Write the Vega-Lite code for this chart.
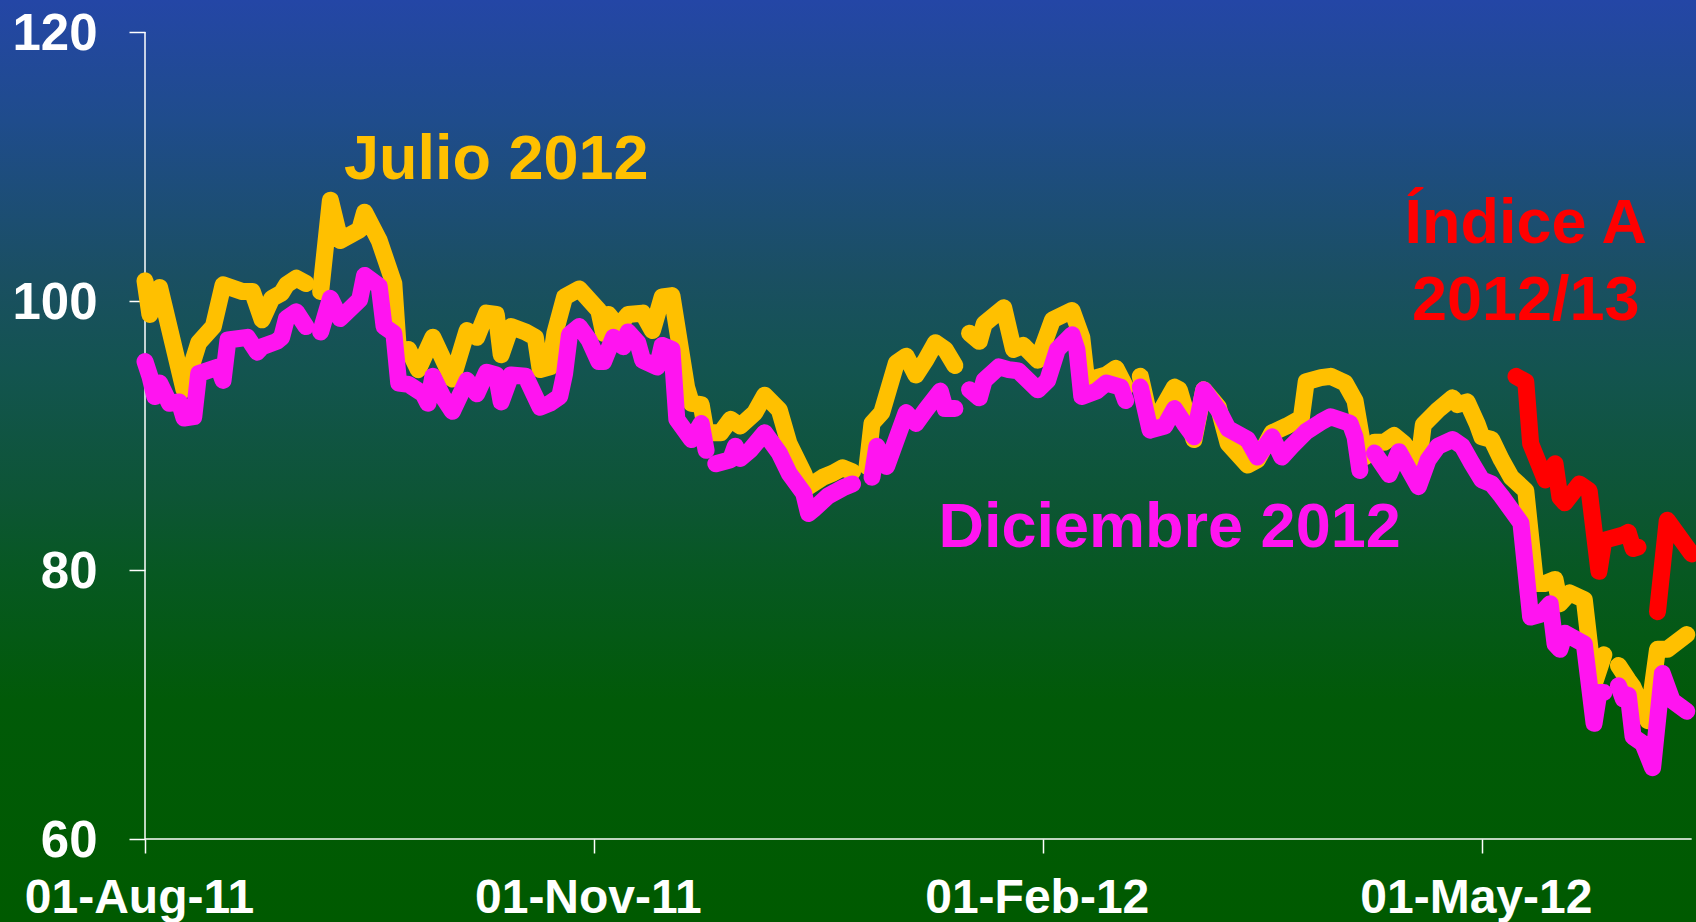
{
  "$schema": "https://vega.github.io/schema/vega-lite/v6.json",
  "width": 1696,
  "height": 922,
  "autosize": {"type": "none"},
  "padding": 0,
  "background": "#0E5535",
  "view": {
    "stroke": null,
    "fill": {
      "gradient": "linear", "x1": 0, "y1": 0, "x2": 0, "y2": 1,
      "stops": [
        {"offset": 0, "color": "#2446A6"},
        {"offset": 0.13, "color": "#1F4C8C"},
        {"offset": 0.3, "color": "#1A4F62"},
        {"offset": 0.4, "color": "#135450"},
        {"offset": 0.54, "color": "#0D5535"},
        {"offset": 0.62, "color": "#075822"},
        {"offset": 0.76, "color": "#015A08"},
        {"offset": 1, "color": "#005A00"}
      ]
    }
  },
  "config": {"font": "Liberation Sans"},
  "datasets": {
    "axisLines": [
      {"date": "2011-08-01", "date2": "2011-08-01", "value": 60, "value2": 120},
      {"date": "2011-08-01", "date2": "2012-06-13", "value": 60, "value2": 60}
    ],
    "prices": [
      {"series":"Julio 2012","seg":1,"date":"2011-08-01","value":101.5},
      {"series":"Julio 2012","seg":1,"date":"2011-08-02","value":99.0},
      {"series":"Julio 2012","seg":1,"date":"2011-08-04","value":101.0},
      {"series":"Julio 2012","seg":1,"date":"2011-08-05","value":99.5},
      {"series":"Julio 2012","seg":1,"date":"2011-08-09","value":93.4},
      {"series":"Julio 2012","seg":1,"date":"2011-08-12","value":96.9},
      {"series":"Julio 2012","seg":1,"date":"2011-08-15","value":98.1},
      {"series":"Julio 2012","seg":1,"date":"2011-08-17","value":101.2},
      {"series":"Julio 2012","seg":1,"date":"2011-08-21","value":100.7},
      {"series":"Julio 2012","seg":1,"date":"2011-08-23","value":100.7},
      {"series":"Julio 2012","seg":1,"date":"2011-08-25","value":98.6},
      {"series":"Julio 2012","seg":1,"date":"2011-08-27","value":100.2},
      {"series":"Julio 2012","seg":1,"date":"2011-08-29","value":100.6},
      {"series":"Julio 2012","seg":1,"date":"2011-08-30","value":101.2},
      {"series":"Julio 2012","seg":1,"date":"2011-09-01","value":101.7},
      {"series":"Julio 2012","seg":1,"date":"2011-09-03","value":101.3},
      {"series":"Julio 2012","seg":2,"date":"2011-09-06","value":100.7},
      {"series":"Julio 2012","seg":2,"date":"2011-09-08","value":107.5},
      {"series":"Julio 2012","seg":2,"date":"2011-09-10","value":104.5},
      {"series":"Julio 2012","seg":2,"date":"2011-09-14","value":105.3},
      {"series":"Julio 2012","seg":2,"date":"2011-09-15","value":106.6},
      {"series":"Julio 2012","seg":2,"date":"2011-09-18","value":104.5},
      {"series":"Julio 2012","seg":2,"date":"2011-09-21","value":101.3},
      {"series":"Julio 2012","seg":2,"date":"2011-09-22","value":96.0},
      {"series":"Julio 2012","seg":2,"date":"2011-09-24","value":96.4},
      {"series":"Julio 2012","seg":2,"date":"2011-09-26","value":94.9},
      {"series":"Julio 2012","seg":2,"date":"2011-09-29","value":97.3},
      {"series":"Julio 2012","seg":2,"date":"2011-10-03","value":94.2},
      {"series":"Julio 2012","seg":2,"date":"2011-10-06","value":97.8},
      {"series":"Julio 2012","seg":2,"date":"2011-10-08","value":97.3},
      {"series":"Julio 2012","seg":2,"date":"2011-10-10","value":99.1},
      {"series":"Julio 2012","seg":2,"date":"2011-10-12","value":99.0},
      {"series":"Julio 2012","seg":2,"date":"2011-10-13","value":96.0},
      {"series":"Julio 2012","seg":2,"date":"2011-10-15","value":98.1},
      {"series":"Julio 2012","seg":2,"date":"2011-10-18","value":97.7},
      {"series":"Julio 2012","seg":2,"date":"2011-10-20","value":97.3},
      {"series":"Julio 2012","seg":2,"date":"2011-10-21","value":94.9},
      {"series":"Julio 2012","seg":2,"date":"2011-10-23","value":95.1},
      {"series":"Julio 2012","seg":2,"date":"2011-10-24","value":97.6},
      {"series":"Julio 2012","seg":2,"date":"2011-10-26","value":100.3},
      {"series":"Julio 2012","seg":2,"date":"2011-10-29","value":100.9},
      {"series":"Julio 2012","seg":2,"date":"2011-11-02","value":99.3},
      {"series":"Julio 2012","seg":2,"date":"2011-11-03","value":97.6},
      {"series":"Julio 2012","seg":2,"date":"2011-11-04","value":99.0},
      {"series":"Julio 2012","seg":2,"date":"2011-11-06","value":98.1},
      {"series":"Julio 2012","seg":2,"date":"2011-11-08","value":99.0},
      {"series":"Julio 2012","seg":2,"date":"2011-11-11","value":99.1},
      {"series":"Julio 2012","seg":2,"date":"2011-11-13","value":97.8},
      {"series":"Julio 2012","seg":2,"date":"2011-11-15","value":100.3},
      {"series":"Julio 2012","seg":2,"date":"2011-11-17","value":100.4},
      {"series":"Julio 2012","seg":2,"date":"2011-11-20","value":93.6},
      {"series":"Julio 2012","seg":2,"date":"2011-11-21","value":92.4},
      {"series":"Julio 2012","seg":2,"date":"2011-11-23","value":92.3},
      {"series":"Julio 2012","seg":2,"date":"2011-11-24","value":90.2},
      {"series":"Julio 2012","seg":2,"date":"2011-11-27","value":90.2},
      {"series":"Julio 2012","seg":2,"date":"2011-11-29","value":91.2},
      {"series":"Julio 2012","seg":2,"date":"2011-12-01","value":90.7},
      {"series":"Julio 2012","seg":2,"date":"2011-12-04","value":91.7},
      {"series":"Julio 2012","seg":2,"date":"2011-12-06","value":93.0},
      {"series":"Julio 2012","seg":2,"date":"2011-12-09","value":91.9},
      {"series":"Julio 2012","seg":2,"date":"2011-12-11","value":89.4},
      {"series":"Julio 2012","seg":2,"date":"2011-12-14","value":87.2},
      {"series":"Julio 2012","seg":2,"date":"2011-12-15","value":86.2},
      {"series":"Julio 2012","seg":2,"date":"2011-12-18","value":86.9},
      {"series":"Julio 2012","seg":2,"date":"2011-12-20","value":87.2},
      {"series":"Julio 2012","seg":2,"date":"2011-12-22","value":87.6},
      {"series":"Julio 2012","seg":2,"date":"2011-12-24","value":87.3},
      {"series":"Julio 2012","seg":3,"date":"2011-12-27","value":87.7},
      {"series":"Julio 2012","seg":3,"date":"2011-12-28","value":90.9},
      {"series":"Julio 2012","seg":3,"date":"2011-12-30","value":91.7},
      {"series":"Julio 2012","seg":3,"date":"2012-01-02","value":95.4},
      {"series":"Julio 2012","seg":3,"date":"2012-01-04","value":95.9},
      {"series":"Julio 2012","seg":3,"date":"2012-01-06","value":94.5},
      {"series":"Julio 2012","seg":3,"date":"2012-01-08","value":95.6},
      {"series":"Julio 2012","seg":3,"date":"2012-01-10","value":96.9},
      {"series":"Julio 2012","seg":3,"date":"2012-01-12","value":96.4},
      {"series":"Julio 2012","seg":3,"date":"2012-01-14","value":95.2},
      {"series":"Julio 2012","seg":4,"date":"2012-01-17","value":97.6},
      {"series":"Julio 2012","seg":4,"date":"2012-01-19","value":97.0},
      {"series":"Julio 2012","seg":4,"date":"2012-01-20","value":98.3},
      {"series":"Julio 2012","seg":4,"date":"2012-01-24","value":99.5},
      {"series":"Julio 2012","seg":4,"date":"2012-01-26","value":96.4},
      {"series":"Julio 2012","seg":4,"date":"2012-01-28","value":96.7},
      {"series":"Julio 2012","seg":4,"date":"2012-01-31","value":95.6},
      {"series":"Julio 2012","seg":4,"date":"2012-02-03","value":98.6},
      {"series":"Julio 2012","seg":4,"date":"2012-02-07","value":99.3},
      {"series":"Julio 2012","seg":4,"date":"2012-02-09","value":97.3},
      {"series":"Julio 2012","seg":4,"date":"2012-02-10","value":94.1},
      {"series":"Julio 2012","seg":4,"date":"2012-02-12","value":94.3},
      {"series":"Julio 2012","seg":4,"date":"2012-02-14","value":94.5},
      {"series":"Julio 2012","seg":4,"date":"2012-02-16","value":95.0},
      {"series":"Julio 2012","seg":4,"date":"2012-02-18","value":93.6},
      {"series":"Julio 2012","seg":5,"date":"2012-02-21","value":94.4},
      {"series":"Julio 2012","seg":5,"date":"2012-02-23","value":91.2},
      {"series":"Julio 2012","seg":5,"date":"2012-02-25","value":91.7},
      {"series":"Julio 2012","seg":5,"date":"2012-02-28","value":93.6},
      {"series":"Julio 2012","seg":5,"date":"2012-02-29","value":93.4},
      {"series":"Julio 2012","seg":5,"date":"2012-03-03","value":89.7},
      {"series":"Julio 2012","seg":5,"date":"2012-03-05","value":93.4},
      {"series":"Julio 2012","seg":5,"date":"2012-03-08","value":92.1},
      {"series":"Julio 2012","seg":5,"date":"2012-03-10","value":89.4},
      {"series":"Julio 2012","seg":5,"date":"2012-03-14","value":87.8},
      {"series":"Julio 2012","seg":5,"date":"2012-03-16","value":88.2},
      {"series":"Julio 2012","seg":5,"date":"2012-03-19","value":90.2},
      {"series":"Julio 2012","seg":5,"date":"2012-03-22","value":90.7},
      {"series":"Julio 2012","seg":5,"date":"2012-03-25","value":91.3},
      {"series":"Julio 2012","seg":5,"date":"2012-03-26","value":94.0},
      {"series":"Julio 2012","seg":5,"date":"2012-03-29","value":94.3},
      {"series":"Julio 2012","seg":5,"date":"2012-03-31","value":94.4},
      {"series":"Julio 2012","seg":5,"date":"2012-04-03","value":93.9},
      {"series":"Julio 2012","seg":5,"date":"2012-04-05","value":92.6},
      {"series":"Julio 2012","seg":5,"date":"2012-04-07","value":88.4},
      {"series":"Julio 2012","seg":6,"date":"2012-04-09","value":89.5},
      {"series":"Julio 2012","seg":6,"date":"2012-04-11","value":89.5},
      {"series":"Julio 2012","seg":6,"date":"2012-04-13","value":90.0},
      {"series":"Julio 2012","seg":6,"date":"2012-04-15","value":89.4},
      {"series":"Julio 2012","seg":6,"date":"2012-04-18","value":87.9},
      {"series":"Julio 2012","seg":6,"date":"2012-04-19","value":90.8},
      {"series":"Julio 2012","seg":6,"date":"2012-04-22","value":91.9},
      {"series":"Julio 2012","seg":6,"date":"2012-04-25","value":92.8},
      {"series":"Julio 2012","seg":6,"date":"2012-04-26","value":92.3},
      {"series":"Julio 2012","seg":6,"date":"2012-04-28","value":92.5},
      {"series":"Julio 2012","seg":6,"date":"2012-04-30","value":90.9},
      {"series":"Julio 2012","seg":6,"date":"2012-05-01","value":89.9},
      {"series":"Julio 2012","seg":6,"date":"2012-05-03","value":89.7},
      {"series":"Julio 2012","seg":6,"date":"2012-05-05","value":88.2},
      {"series":"Julio 2012","seg":6,"date":"2012-05-07","value":86.9},
      {"series":"Julio 2012","seg":6,"date":"2012-05-10","value":85.9},
      {"series":"Julio 2012","seg":6,"date":"2012-05-12","value":79.0},
      {"series":"Julio 2012","seg":6,"date":"2012-05-14","value":79.0},
      {"series":"Julio 2012","seg":6,"date":"2012-05-16","value":79.3},
      {"series":"Julio 2012","seg":6,"date":"2012-05-17","value":77.5},
      {"series":"Julio 2012","seg":6,"date":"2012-05-19","value":78.3},
      {"series":"Julio 2012","seg":6,"date":"2012-05-22","value":77.8},
      {"series":"Julio 2012","seg":6,"date":"2012-05-24","value":71.5},
      {"series":"Julio 2012","seg":6,"date":"2012-05-26","value":73.7},
      {"series":"Julio 2012","seg":7,"date":"2012-05-29","value":72.9},
      {"series":"Julio 2012","seg":7,"date":"2012-05-31","value":71.8},
      {"series":"Julio 2012","seg":7,"date":"2012-06-01","value":71.3},
      {"series":"Julio 2012","seg":7,"date":"2012-06-04","value":68.8},
      {"series":"Julio 2012","seg":7,"date":"2012-06-06","value":74.1},
      {"series":"Julio 2012","seg":7,"date":"2012-06-08","value":74.1},
      {"series":"Julio 2012","seg":7,"date":"2012-06-12","value":75.2},

      {"series":"Diciembre 2012","seg":1,"date":"2011-08-01","value":95.5},
      {"series":"Diciembre 2012","seg":1,"date":"2011-08-02","value":94.4},
      {"series":"Diciembre 2012","seg":1,"date":"2011-08-03","value":92.9},
      {"series":"Diciembre 2012","seg":1,"date":"2011-08-04","value":93.9},
      {"series":"Diciembre 2012","seg":1,"date":"2011-08-06","value":92.4},
      {"series":"Diciembre 2012","seg":1,"date":"2011-08-08","value":92.5},
      {"series":"Diciembre 2012","seg":1,"date":"2011-08-09","value":91.3},
      {"series":"Diciembre 2012","seg":1,"date":"2011-08-11","value":91.4},
      {"series":"Diciembre 2012","seg":1,"date":"2011-08-12","value":94.6},
      {"series":"Diciembre 2012","seg":1,"date":"2011-08-16","value":95.1},
      {"series":"Diciembre 2012","seg":1,"date":"2011-08-17","value":94.1},
      {"series":"Diciembre 2012","seg":1,"date":"2011-08-18","value":97.1},
      {"series":"Diciembre 2012","seg":1,"date":"2011-08-22","value":97.3},
      {"series":"Diciembre 2012","seg":1,"date":"2011-08-24","value":96.2},
      {"series":"Diciembre 2012","seg":1,"date":"2011-08-25","value":96.6},
      {"series":"Diciembre 2012","seg":1,"date":"2011-08-28","value":97.0},
      {"series":"Diciembre 2012","seg":1,"date":"2011-08-29","value":97.3},
      {"series":"Diciembre 2012","seg":1,"date":"2011-08-30","value":98.7},
      {"series":"Diciembre 2012","seg":1,"date":"2011-09-01","value":99.2},
      {"series":"Diciembre 2012","seg":1,"date":"2011-09-03","value":98.1},
      {"series":"Diciembre 2012","seg":2,"date":"2011-09-06","value":97.7},
      {"series":"Diciembre 2012","seg":2,"date":"2011-09-08","value":100.2},
      {"series":"Diciembre 2012","seg":2,"date":"2011-09-10","value":98.7},
      {"series":"Diciembre 2012","seg":2,"date":"2011-09-14","value":100.1},
      {"series":"Diciembre 2012","seg":2,"date":"2011-09-15","value":101.9},
      {"series":"Diciembre 2012","seg":2,"date":"2011-09-18","value":101.1},
      {"series":"Diciembre 2012","seg":2,"date":"2011-09-19","value":98.1},
      {"series":"Diciembre 2012","seg":2,"date":"2011-09-21","value":97.6},
      {"series":"Diciembre 2012","seg":2,"date":"2011-09-22","value":93.9},
      {"series":"Diciembre 2012","seg":2,"date":"2011-09-24","value":93.8},
      {"series":"Diciembre 2012","seg":2,"date":"2011-09-27","value":93.1},
      {"series":"Diciembre 2012","seg":2,"date":"2011-09-28","value":92.4},
      {"series":"Diciembre 2012","seg":2,"date":"2011-09-29","value":94.4},
      {"series":"Diciembre 2012","seg":2,"date":"2011-10-01","value":92.9},
      {"series":"Diciembre 2012","seg":2,"date":"2011-10-03","value":91.8},
      {"series":"Diciembre 2012","seg":2,"date":"2011-10-06","value":94.1},
      {"series":"Diciembre 2012","seg":2,"date":"2011-10-08","value":93.1},
      {"series":"Diciembre 2012","seg":2,"date":"2011-10-10","value":94.7},
      {"series":"Diciembre 2012","seg":2,"date":"2011-10-12","value":94.5},
      {"series":"Diciembre 2012","seg":2,"date":"2011-10-13","value":92.5},
      {"series":"Diciembre 2012","seg":2,"date":"2011-10-15","value":94.5},
      {"series":"Diciembre 2012","seg":2,"date":"2011-10-18","value":94.4},
      {"series":"Diciembre 2012","seg":2,"date":"2011-10-21","value":92.1},
      {"series":"Diciembre 2012","seg":2,"date":"2011-10-23","value":92.4},
      {"series":"Diciembre 2012","seg":2,"date":"2011-10-25","value":92.9},
      {"series":"Diciembre 2012","seg":2,"date":"2011-10-26","value":94.6},
      {"series":"Diciembre 2012","seg":2,"date":"2011-10-27","value":97.5},
      {"series":"Diciembre 2012","seg":2,"date":"2011-10-29","value":98.1},
      {"series":"Diciembre 2012","seg":2,"date":"2011-10-31","value":97.1},
      {"series":"Diciembre 2012","seg":2,"date":"2011-11-02","value":95.5},
      {"series":"Diciembre 2012","seg":2,"date":"2011-11-03","value":95.5},
      {"series":"Diciembre 2012","seg":2,"date":"2011-11-05","value":97.3},
      {"series":"Diciembre 2012","seg":2,"date":"2011-11-07","value":96.6},
      {"series":"Diciembre 2012","seg":2,"date":"2011-11-08","value":97.7},
      {"series":"Diciembre 2012","seg":2,"date":"2011-11-10","value":96.9},
      {"series":"Diciembre 2012","seg":2,"date":"2011-11-11","value":95.6},
      {"series":"Diciembre 2012","seg":2,"date":"2011-11-14","value":95.1},
      {"series":"Diciembre 2012","seg":2,"date":"2011-11-15","value":96.7},
      {"series":"Diciembre 2012","seg":2,"date":"2011-11-17","value":96.4},
      {"series":"Diciembre 2012","seg":2,"date":"2011-11-18","value":91.2},
      {"series":"Diciembre 2012","seg":2,"date":"2011-11-21","value":89.7},
      {"series":"Diciembre 2012","seg":2,"date":"2011-11-23","value":90.9},
      {"series":"Diciembre 2012","seg":2,"date":"2011-11-24","value":88.9},
      {"series":"Diciembre 2012","seg":3,"date":"2011-11-26","value":87.9},
      {"series":"Diciembre 2012","seg":3,"date":"2011-11-29","value":88.2},
      {"series":"Diciembre 2012","seg":3,"date":"2011-11-30","value":89.2},
      {"series":"Diciembre 2012","seg":3,"date":"2011-12-01","value":88.3},
      {"series":"Diciembre 2012","seg":3,"date":"2011-12-03","value":88.9},
      {"series":"Diciembre 2012","seg":3,"date":"2011-12-06","value":90.2},
      {"series":"Diciembre 2012","seg":3,"date":"2011-12-09","value":88.7},
      {"series":"Diciembre 2012","seg":3,"date":"2011-12-11","value":87.2},
      {"series":"Diciembre 2012","seg":3,"date":"2011-12-14","value":85.7},
      {"series":"Diciembre 2012","seg":3,"date":"2011-12-15","value":84.2},
      {"series":"Diciembre 2012","seg":3,"date":"2011-12-16","value":84.5},
      {"series":"Diciembre 2012","seg":3,"date":"2011-12-19","value":85.5},
      {"series":"Diciembre 2012","seg":3,"date":"2011-12-22","value":86.1},
      {"series":"Diciembre 2012","seg":3,"date":"2011-12-24","value":86.4},
      {"series":"Diciembre 2012","seg":4,"date":"2011-12-28","value":86.9},
      {"series":"Diciembre 2012","seg":4,"date":"2011-12-29","value":89.2},
      {"series":"Diciembre 2012","seg":4,"date":"2011-12-31","value":87.7},
      {"series":"Diciembre 2012","seg":4,"date":"2012-01-04","value":91.7},
      {"series":"Diciembre 2012","seg":4,"date":"2012-01-06","value":90.9},
      {"series":"Diciembre 2012","seg":4,"date":"2012-01-08","value":91.9},
      {"series":"Diciembre 2012","seg":4,"date":"2012-01-11","value":93.3},
      {"series":"Diciembre 2012","seg":4,"date":"2012-01-12","value":92.0},
      {"series":"Diciembre 2012","seg":4,"date":"2012-01-14","value":92.0},
      {"series":"Diciembre 2012","seg":5,"date":"2012-01-17","value":93.4},
      {"series":"Diciembre 2012","seg":5,"date":"2012-01-19","value":92.8},
      {"series":"Diciembre 2012","seg":5,"date":"2012-01-20","value":94.1},
      {"series":"Diciembre 2012","seg":5,"date":"2012-01-23","value":95.1},
      {"series":"Diciembre 2012","seg":5,"date":"2012-01-25","value":94.9},
      {"series":"Diciembre 2012","seg":5,"date":"2012-01-27","value":94.8},
      {"series":"Diciembre 2012","seg":5,"date":"2012-01-31","value":93.4},
      {"series":"Diciembre 2012","seg":5,"date":"2012-02-02","value":94.1},
      {"series":"Diciembre 2012","seg":5,"date":"2012-02-04","value":96.4},
      {"series":"Diciembre 2012","seg":5,"date":"2012-02-07","value":97.5},
      {"series":"Diciembre 2012","seg":5,"date":"2012-02-08","value":96.4},
      {"series":"Diciembre 2012","seg":5,"date":"2012-02-09","value":92.9},
      {"series":"Diciembre 2012","seg":5,"date":"2012-02-12","value":93.3},
      {"series":"Diciembre 2012","seg":5,"date":"2012-02-14","value":93.9},
      {"series":"Diciembre 2012","seg":5,"date":"2012-02-17","value":93.6},
      {"series":"Diciembre 2012","seg":5,"date":"2012-02-18","value":92.6},
      {"series":"Diciembre 2012","seg":6,"date":"2012-02-21","value":93.6},
      {"series":"Diciembre 2012","seg":6,"date":"2012-02-23","value":90.4},
      {"series":"Diciembre 2012","seg":6,"date":"2012-02-26","value":90.7},
      {"series":"Diciembre 2012","seg":6,"date":"2012-02-28","value":92.0},
      {"series":"Diciembre 2012","seg":6,"date":"2012-03-01","value":90.9},
      {"series":"Diciembre 2012","seg":6,"date":"2012-03-03","value":89.9},
      {"series":"Diciembre 2012","seg":6,"date":"2012-03-05","value":93.4},
      {"series":"Diciembre 2012","seg":6,"date":"2012-03-08","value":91.9},
      {"series":"Diciembre 2012","seg":6,"date":"2012-03-10","value":90.5},
      {"series":"Diciembre 2012","seg":6,"date":"2012-03-14","value":89.7},
      {"series":"Diciembre 2012","seg":6,"date":"2012-03-16","value":88.4},
      {"series":"Diciembre 2012","seg":6,"date":"2012-03-19","value":89.9},
      {"series":"Diciembre 2012","seg":6,"date":"2012-03-21","value":88.4},
      {"series":"Diciembre 2012","seg":6,"date":"2012-03-23","value":89.2},
      {"series":"Diciembre 2012","seg":6,"date":"2012-03-26","value":90.3},
      {"series":"Diciembre 2012","seg":6,"date":"2012-03-29","value":91.0},
      {"series":"Diciembre 2012","seg":6,"date":"2012-03-31","value":91.4},
      {"series":"Diciembre 2012","seg":6,"date":"2012-04-04","value":90.9},
      {"series":"Diciembre 2012","seg":6,"date":"2012-04-05","value":89.9},
      {"series":"Diciembre 2012","seg":6,"date":"2012-04-06","value":87.4},
      {"series":"Diciembre 2012","seg":7,"date":"2012-04-09","value":88.7},
      {"series":"Diciembre 2012","seg":7,"date":"2012-04-12","value":87.1},
      {"series":"Diciembre 2012","seg":7,"date":"2012-04-14","value":88.8},
      {"series":"Diciembre 2012","seg":7,"date":"2012-04-18","value":86.2},
      {"series":"Diciembre 2012","seg":7,"date":"2012-04-20","value":88.2},
      {"series":"Diciembre 2012","seg":7,"date":"2012-04-22","value":89.2},
      {"series":"Diciembre 2012","seg":7,"date":"2012-04-25","value":89.7},
      {"series":"Diciembre 2012","seg":7,"date":"2012-04-27","value":89.2},
      {"series":"Diciembre 2012","seg":7,"date":"2012-04-29","value":87.9},
      {"series":"Diciembre 2012","seg":7,"date":"2012-05-01","value":86.7},
      {"series":"Diciembre 2012","seg":7,"date":"2012-05-03","value":86.4},
      {"series":"Diciembre 2012","seg":7,"date":"2012-05-05","value":85.5},
      {"series":"Diciembre 2012","seg":7,"date":"2012-05-07","value":84.5},
      {"series":"Diciembre 2012","seg":7,"date":"2012-05-09","value":83.5},
      {"series":"Diciembre 2012","seg":7,"date":"2012-05-11","value":76.5},
      {"series":"Diciembre 2012","seg":7,"date":"2012-05-13","value":76.7},
      {"series":"Diciembre 2012","seg":7,"date":"2012-05-15","value":77.5},
      {"series":"Diciembre 2012","seg":7,"date":"2012-05-16","value":74.5},
      {"series":"Diciembre 2012","seg":7,"date":"2012-05-17","value":74.1},
      {"series":"Diciembre 2012","seg":7,"date":"2012-05-18","value":75.3},
      {"series":"Diciembre 2012","seg":7,"date":"2012-05-22","value":74.5},
      {"series":"Diciembre 2012","seg":7,"date":"2012-05-24","value":68.6},
      {"series":"Diciembre 2012","seg":7,"date":"2012-05-25","value":70.9},
      {"series":"Diciembre 2012","seg":7,"date":"2012-05-26","value":70.9},
      {"series":"Diciembre 2012","seg":8,"date":"2012-05-29","value":71.4},
      {"series":"Diciembre 2012","seg":8,"date":"2012-05-30","value":70.4},
      {"series":"Diciembre 2012","seg":8,"date":"2012-05-31","value":70.7},
      {"series":"Diciembre 2012","seg":8,"date":"2012-06-01","value":67.6},
      {"series":"Diciembre 2012","seg":8,"date":"2012-06-03","value":67.1},
      {"series":"Diciembre 2012","seg":8,"date":"2012-06-05","value":65.3},
      {"series":"Diciembre 2012","seg":8,"date":"2012-06-07","value":72.3},
      {"series":"Diciembre 2012","seg":8,"date":"2012-06-09","value":70.3},
      {"series":"Diciembre 2012","seg":8,"date":"2012-06-12","value":69.5},

      {"series":"Índice A 2012/13","seg":1,"date":"2012-05-08","value":94.4},
      {"series":"Índice A 2012/13","seg":1,"date":"2012-05-10","value":94.0},
      {"series":"Índice A 2012/13","seg":1,"date":"2012-05-11","value":89.4},
      {"series":"Índice A 2012/13","seg":1,"date":"2012-05-14","value":86.7},
      {"series":"Índice A 2012/13","seg":1,"date":"2012-05-16","value":87.9},
      {"series":"Índice A 2012/13","seg":1,"date":"2012-05-17","value":85.4},
      {"series":"Índice A 2012/13","seg":1,"date":"2012-05-18","value":85.0},
      {"series":"Índice A 2012/13","seg":1,"date":"2012-05-21","value":86.4},
      {"series":"Índice A 2012/13","seg":1,"date":"2012-05-23","value":85.9},
      {"series":"Índice A 2012/13","seg":1,"date":"2012-05-25","value":79.9},
      {"series":"Índice A 2012/13","seg":1,"date":"2012-05-26","value":82.2},
      {"series":"Índice A 2012/13","seg":1,"date":"2012-05-30","value":82.6},
      {"series":"Índice A 2012/13","seg":1,"date":"2012-05-31","value":82.8},
      {"series":"Índice A 2012/13","seg":1,"date":"2012-06-01","value":81.6},
      {"series":"Índice A 2012/13","seg":1,"date":"2012-06-02","value":81.7},
      {"series":"Índice A 2012/13","seg":2,"date":"2012-06-06","value":76.9},
      {"series":"Índice A 2012/13","seg":2,"date":"2012-06-08","value":83.7},
      {"series":"Índice A 2012/13","seg":2,"date":"2012-06-13","value":81.2}
    ],
    "labels": [
      {"series":"Julio 2012","date":"2011-10-12","value":109.07,"label":"Julio 2012"},
      {"series":"Diciembre 2012","date":"2012-02-27","value":81.73,"label":"Diciembre 2012"},
      {"series":"Índice A 2012/13","date":"2012-05-10","value":104.29,"label":"Índice A"},
      {"series":"Índice A 2012/13","date":"2012-05-10","value":98.59,"label":"2012/13"}
    ]
  },
  "encoding": {
    "x": {
      "field": "date", "type": "temporal",
      "scale": {"type": "utc", "domain": [
        {"year": 2011, "month": 7, "date": 2, "hours": 6, "minutes": 43, "utc": true},
        {"year": 2012, "month": 6, "date": 13, "hours": 21, "minutes": 22, "utc": true}
      ]},
      "axis": {
        "title": null, "orient": "bottom", "offset": -83,
        "values": [
          {"year": 2011, "month": 8, "date": 1, "utc": true},
          {"year": 2011, "month": 11, "date": 1, "utc": true},
          {"year": 2012, "month": 2, "date": 1, "utc": true},
          {"year": 2012, "month": 5, "date": 1, "utc": true}
        ],
        "format": "%d-%b-%y",
        "domain": false, "grid": false,
        "ticks": true, "tickSize": 14, "tickWidth": 1.5, "tickColor": "#FFFFFF",
        "labelColor": "#FFFFFF", "labelFont": "Liberation Sans", "labelFontSize": 48,
        "labelFontWeight": "bold", "labelPadding": 21, "labelOffset": -6,
        "labelFlush": false, "labelOverlap": false, "labelLimit": 0
      }
    },
    "y": {
      "field": "value", "type": "quantitative",
      "scale": {"domain": [53.83, 122.38], "nice": false, "zero": false},
      "axis": {
        "title": null, "orient": "left", "offset": -145,
        "values": [60, 80, 100, 120],
        "domain": false, "grid": false,
        "ticks": true, "tickSize": 16, "tickWidth": 1.5, "tickColor": "#FFFFFF",
        "labelColor": "#FFFFFF", "labelFont": "Liberation Sans", "labelFontSize": 51,
        "labelFontWeight": "bold", "labelPadding": 32, "labelOffset": 2,
        "labelFlush": false, "labelOverlap": false, "labelLimit": 0
      }
    }
  },
  "layer": [
    {
      "data": {"name": "axisLines"},
      "mark": {"type": "rule", "color": "#FFFFFF", "strokeWidth": 1.5},
      "encoding": {
        "x2": {"field": "date2"},
        "y2": {"field": "value2"}
      }
    },
    {
      "data": {"name": "prices"},
      "transform": [{"filter": "datum.series === 'Julio 2012'"}],
      "mark": {"type": "line", "strokeWidth": 17, "strokeCap": "round", "strokeJoin": "round"},
      "encoding": {
        "color": {"field": "series", "type": "nominal", "legend": null,
          "scale": {"domain": ["Julio 2012", "Diciembre 2012", "Índice A 2012/13"], "range": ["#FFC000", "#FF14F0", "#FF0000"]}},
        "detail": {"field": "seg", "type": "nominal"}
      }
    },
    {
      "data": {"name": "prices"},
      "transform": [{"filter": "datum.series === 'Diciembre 2012'"}],
      "mark": {"type": "line", "strokeWidth": 17, "strokeCap": "round", "strokeJoin": "round"},
      "encoding": {
        "color": {"field": "series", "type": "nominal", "legend": null},
        "detail": {"field": "seg", "type": "nominal"}
      }
    },
    {
      "data": {"name": "prices"},
      "transform": [{"filter": "datum.series === 'Índice A 2012/13'"}],
      "mark": {"type": "line", "strokeWidth": 17, "strokeCap": "round", "strokeJoin": "round"},
      "encoding": {
        "color": {"field": "series", "type": "nominal", "legend": null},
        "detail": {"field": "seg", "type": "nominal"}
      }
    },
    {
      "data": {"name": "labels"},
      "mark": {"type": "text", "font": "Liberation Sans", "fontSize": 63, "fontWeight": "bold", "align": "center", "baseline": "alphabetic"},
      "encoding": {
        "text": {"field": "label", "type": "nominal"},
        "color": {"field": "series", "type": "nominal", "legend": null}
      }
    }
  ]
}
